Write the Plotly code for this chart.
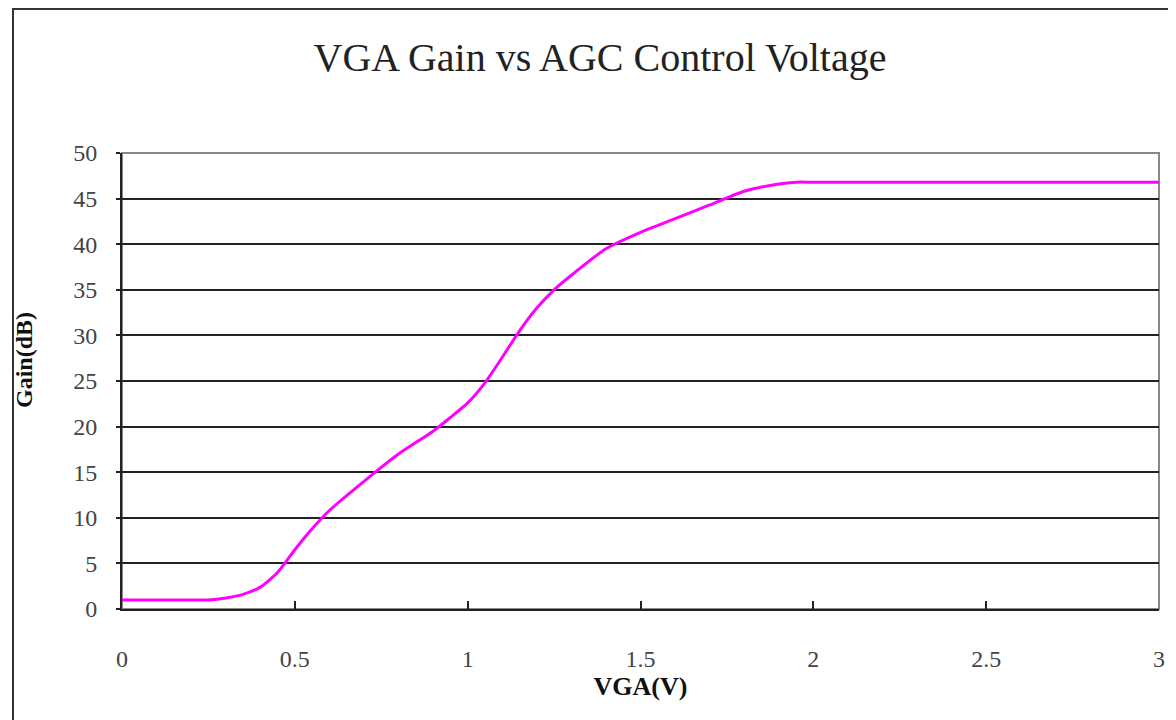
import plotly.graph_objects as go

vga_v = [0, 0.1, 0.2, 0.25, 0.3, 0.35, 0.4, 0.45, 0.5, 0.55, 0.6, 0.7, 0.8, 0.9,
         0.95, 1.0, 1.05, 1.1, 1.15, 1.2, 1.25, 1.3, 1.4, 1.5, 1.6, 1.7, 1.8,
         1.9, 1.95, 2.0, 2.5, 3.0]
gain_db = [1, 1, 1, 1, 1.2, 1.6, 2.4, 4, 6.5, 8.8, 10.8, 14, 17, 19.5,
           21, 22.6, 24.8, 27.6, 30.5, 33, 35, 36.6, 39.5, 41.3, 42.8, 44.3, 45.8,
           46.6, 46.8, 46.8, 46.8, 46.8]

x_ticks = [0, 0.5, 1, 1.5, 2, 2.5, 3]
x_tick_labels = ["0", "0.5", "1", "1.5", "2", "2.5", "3"]
y_ticks = [0, 5, 10, 15, 20, 25, 30, 35, 40, 45, 50]

serif = "Liberation Serif, Times New Roman, serif"

# page offset compensation (body margin ~8px)
OFF = 8
L, T = 122 - OFF, 153 - OFF
R_EDGE, B_EDGE = 1159 - OFF, 609 - OFF
PW, PH = R_EDGE - L, B_EDGE - T

fig = go.Figure()
fig.add_trace(go.Scatter(
    x=vga_v, y=gain_db, mode="lines",
    line=dict(color="#FF00FF", width=3, shape="spline", smoothing=0.6),
    showlegend=False, hoverinfo="x+y"))

fig.update_layout(
    width=1176, height=720,
    margin=dict(l=L, r=1176 - R_EDGE, t=T, b=720 - B_EDGE),
    paper_bgcolor="white", plot_bgcolor="white",
    title=dict(text="VGA Gain vs AGC Control Voltage", x=(600 - OFF) / 1176, xref="container",
               xanchor="center", y=1 - (57 - OFF) / 720, yref="container", yanchor="middle",
               font=dict(family=serif, size=40, color="#222")),
    xaxis=dict(range=[0, 3], tickvals=x_ticks, ticktext=x_tick_labels,
               ticks="inside", ticklen=8, tickwidth=2, tickcolor="#222",
               showline=True, linecolor="#222", linewidth=2, mirror=False,
               showgrid=False, zeroline=False, ticklabelstandoff=27,
               tickfont=dict(family=serif, size=24, color="#444"),
               title=dict(text="<b>VGA(V)</b>", standoff=6,
                          font=dict(family=serif, size=26, color="#111"))),
    yaxis=dict(range=[0, 50], tickvals=y_ticks,
               ticks="outside", ticklen=4, tickwidth=2, tickcolor="#222",
               showline=True, linecolor="#222", linewidth=2,
               showgrid=True, gridcolor="#222", gridwidth=2, zeroline=False,
               ticklabelstandoff=14,
               tickfont=dict(family=serif, size=24, color="#444")),
    shapes=[
        dict(type="rect", xref="paper", yref="paper", x0=0, y0=0, x1=1, y1=1,
             line=dict(color="#888", width=2), layer="below"),
        dict(type="rect", xref="paper", yref="paper", x0=(13 - OFF - L) / PW, y0=-0.5,
             x1=1.2, y1=(B_EDGE - 1) / PH, line=dict(color="#333", width=2)),
    ],
    annotations=[
        dict(text="<b>Gain(dB)</b>", xref="paper", yref="paper",
             x=(24 - OFF - L) / PW, y=(B_EDGE - (360 - OFF)) / PH, textangle=-90,
             showarrow=False, xanchor="center", yanchor="middle",
             font=dict(family=serif, size=24, color="#111")),
    ],
)

fig.write_html("out.html")
